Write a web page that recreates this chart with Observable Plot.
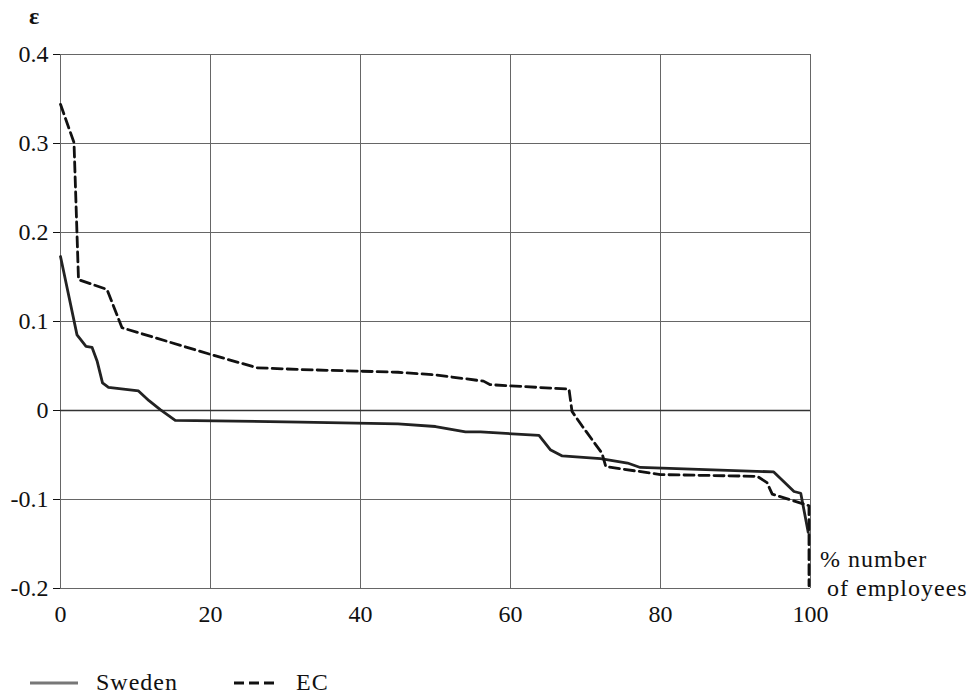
<!DOCTYPE html>
<html>
<head>
<meta charset="utf-8">
<script src="https://cdn.jsdelivr.net/npm/d3@7"></script>
<script src="https://cdn.jsdelivr.net/npm/@observablehq/plot@0.6"></script>
<style>
  body { margin: 0; background: #fff; }
  #wrap { position: relative; width: 974px; height: 698px; font-family: "Liberation Serif", "Times New Roman", serif; color: #111; }
  #chart { position: absolute; left: 0; top: 0; }
  .lbl { position: absolute; font-size: 24px; line-height: 29px; white-space: nowrap; letter-spacing: 1px; }
  #legend { position: absolute; left: 30px; top: 669px; display: flex; align-items: center; font-size: 24px; letter-spacing: 1px; }
  #legend svg { display: block; }
</style>
</head>
<body>
<div id="wrap">
  <div id="chart"></div>
  <div class="lbl" id="ylab" style="left:29px; top:2px; font-weight:bold;">ε</div>
  <div class="lbl" id="xlab" style="left:820px; top:545px;">% number<br>&nbsp;of employees</div>
  <div id="legend"></div>
</div>
<script>
// Tick values
const xTicks = [0, 20, 40, 60, 80, 100];
const yTicks = [0.4, 0.3, 0.2, 0.1, 0, -0.1, -0.2];

// Series: Sweden (solid)
const swedenX = [0, 2.2, 3.4, 4.2, 4.9, 5.6, 6.4, 10.4, 11.8, 13.3, 15.3, 32, 45, 50, 54, 56, 63.8, 65.3, 66.9, 72, 75.6, 77.3, 95.1, 97.8, 98.7, 99.7];
const swedenY = [0.173, 0.085, 0.072, 0.071, 0.055, 0.031, 0.026, 0.022, 0.011, 0.001, -0.011, -0.013, -0.015, -0.018, -0.024, -0.024, -0.028, -0.044, -0.051, -0.054, -0.059, -0.064, -0.069, -0.091, -0.093, -0.137];

// Series: EC (dashed)
const ecX = [0, 1.8, 2.4, 6.2, 8.2, 20, 26.2, 32, 45, 50, 56.4, 57.3, 67.8, 68.2, 69.6, 72.2, 72.7, 80, 92.9, 94.2, 94.9, 98.7, 99.8, 99.8];
const ecY = [0.344, 0.301, 0.147, 0.136, 0.093, 0.063, 0.048, 0.046, 0.043, 0.040, 0.033, 0.029, 0.024, -0.001, -0.018, -0.048, -0.063, -0.072, -0.074, -0.081, -0.094, -0.104, -0.107, -0.197];

const sweden = swedenX.map((x, i) => ({x, y: swedenY[i]}));
const ec = ecX.map((x, i) => ({x, y: ecY[i]}));

const fmt = d => d === 0 ? "0" : (d < 0 ? "-" : "") + Math.abs(d).toFixed(1);

const chart = Plot.plot({
  width: 974,
  height: 640,
  marginLeft: 60,
  marginRight: 164,
  marginTop: 54,
  marginBottom: 52,
  style: {fontSize: "24px", fontFamily: "'Liberation Serif', 'Times New Roman', serif", color: "#111", background: "transparent"},
  x: {domain: [0, 100], ticks: xTicks, tickSize: 0, tickPadding: 16, label: null, tickFormat: d => String(d)},
  y: {domain: [-0.2, 0.4], ticks: yTicks, tickSize: 7, tickPadding: 5, label: null, tickFormat: fmt},
  marks: [
    Plot.ruleX(xTicks, {stroke: "#666", strokeWidth: 1}),
    Plot.ruleY(yTicks.filter(d => d !== 0), {stroke: "#666", strokeWidth: 1}),
    Plot.ruleY([0], {stroke: "#333", strokeWidth: 1.6}),
    Plot.line(sweden, {x: "x", y: "y", stroke: "#222", strokeWidth: 2.8, strokeLinejoin: "round"}),
    Plot.line(ec, {x: "x", y: "y", stroke: "#111", strokeWidth: 2.8, strokeDasharray: "10,5"})
  ]
});
document.getElementById("chart").appendChild(chart);

// Legend
const legendItems = [
  {name: "Sweden", stroke: "#777", dash: null, w: 48, gap: 18, after: 56},
  {name: "EC", stroke: "#111", dash: "10,5", w: 44, gap: 18, after: 0}
];
const leg = d3.select("#legend");
legendItems.forEach(it => {
  const s = leg.append("svg").attr("width", it.w).attr("height", 10);
  s.append("line").attr("x1", 0).attr("x2", it.w).attr("y1", 5).attr("y2", 5)
    .attr("stroke", it.stroke).attr("stroke-width", 3)
    .attr("stroke-dasharray", it.dash);
  leg.append("span").text(it.name)
    .style("margin-left", it.gap + "px").style("margin-right", it.after + "px");
});
</script>
</body>
</html>
